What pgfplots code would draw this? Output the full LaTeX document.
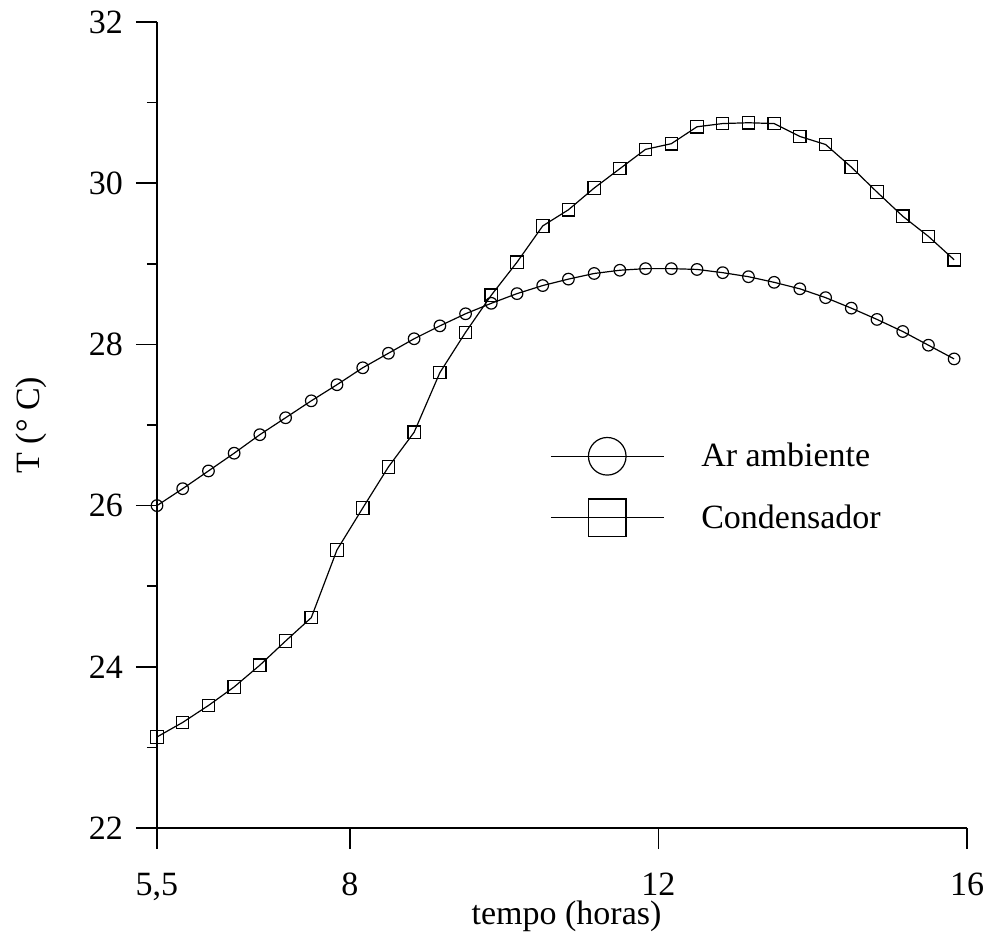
\documentclass[border=0pt]{standalone}
\usepackage{pgfplots}
\pgfplotsset{compat=1.18}
\usepackage{fontspec}
\setmainfont{Liberation Serif}
\pgfplotstableread{
x y
5.5 26.00
5.833 26.21
6.167 26.43
6.5 26.65
6.833 26.88
7.167 27.09
7.5 27.30
7.833 27.50
8.167 27.71
8.5 27.89
8.833 28.07
9.167 28.23
9.5 28.38
9.833 28.51
10.167 28.63
10.5 28.73
10.833 28.81
11.167 28.88
11.5 28.92
11.833 28.94
12.167 28.94
12.5 28.93
12.833 28.89
13.167 28.84
13.5 28.77
13.833 28.69
14.167 28.58
14.5 28.45
14.833 28.31
15.167 28.16
15.5 27.99
15.833 27.82
}\ar
\pgfplotstableread{
x y
5.5 23.13
5.833 23.31
6.167 23.52
6.5 23.75
6.833 24.02
7.167 24.32
7.5 24.61
7.833 25.45
8.167 25.97
8.5 26.48
8.833 26.91
9.167 27.65
9.5 28.15
9.833 28.61
10.167 29.02
10.5 29.47
10.833 29.67
11.167 29.94
11.5 30.18
11.833 30.42
12.167 30.49
12.5 30.70
12.833 30.74
13.167 30.75
13.5 30.74
13.833 30.58
14.167 30.48
14.5 30.20
14.833 29.89
15.167 29.59
15.5 29.34
15.833 29.05
}\cond
\begin{document}
\begin{tikzpicture}[font=\fontsize{17}{20.4}\selectfont]
\useasboundingbox (-78.5pt,-58pt) rectangle (413.5pt,414pt);
\begin{axis}[
  at={(0pt,0pt)}, anchor=south west,
  scale only axis, width=405pt, height=403pt,
  xmin=5.5, xmax=16, ymin=22, ymax=32,
  axis lines*=left,
  axis line style={line width=0.9pt},
  tick align=outside,
  major tick length=10.5pt, minor tick length=5pt,
  every tick/.append style={black, line width=0.8pt},
  xtick={5.5,8,12,16}, xticklabels={{5,5},8,12,16},
  ytick={22,24,...,32}, minor ytick={23,25,...,31},
  xticklabel style={yshift=-8.5pt},
  yticklabel style={xshift=-3pt},
  /pgf/number format/assume math mode=true,
  xlabel={tempo (horas)}, ylabel={T (° C)},
  every axis x label/.style={at={(axis description cs:0.5056,-0.11)},anchor=center},
  every axis y label/.style={at={(axis description cs:-0.1556,0.5)},anchor=center,rotate=90},
  legend style={draw=none, fill=none, at={(axis description cs:0.485,0.485)}, anchor=north west, inner sep=0pt, row sep=12pt,
    /tikz/every odd column/.append style={column sep=16.5pt}},
  legend cell align=left,
  legend image code/.code={\draw[mark repeat=2,mark phase=2,#1,line width=0.5pt,mark size=9.4pt] plot coordinates {(0pt,0pt) (28.25pt,0pt) (56.5pt,0pt)};},
]
\addplot[black, line width=0.6pt, mark=o, mark size=2.9pt, mark options={line width=0.6pt}] table {\ar};
\addlegendentry{Ar ambiente}
\addplot[black, line width=0.6pt, mark=square, mark size=3.1pt, mark options={line width=0.6pt}] table {\cond};
\addlegendentry{Condensador}
\end{axis}
\end{tikzpicture}
\end{document}
